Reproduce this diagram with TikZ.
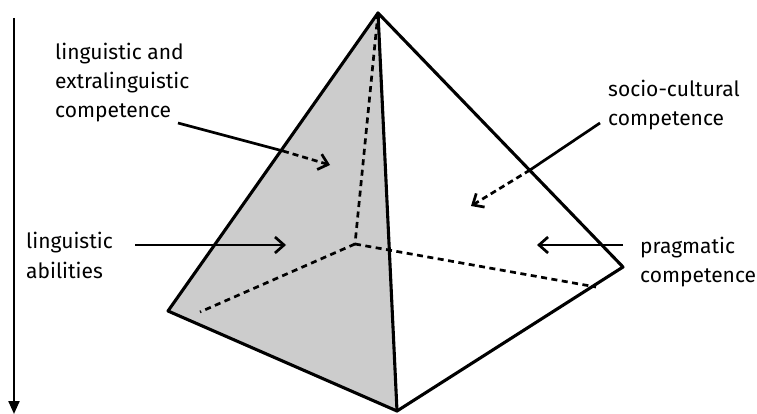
\documentclass[tikz,border=0pt]{standalone}
\usepackage{fontspec}
\setmainfont{Fira Sans}
\usetikzlibrary{arrows.meta}
\begin{document}
\begin{tikzpicture}[x=1pt,y=-1pt,
  edge/.style={line width=3.1pt,line join=round,line cap=round},
  hidden/.style={line width=2.7pt,dash pattern=on 6pt off 4.5pt},
  callout/.style={line width=2.7pt},
  barb/.style={-{Straight Barb[length=9pt,width=16pt,line width=2.7pt]}},
  lbl/.style={font=\fontsize{21}{29.5}\selectfont,inner sep=0pt,anchor=base west}]
\useasboundingbox (0,0) rectangle (757,414);
% vertices
\coordinate (apex) at (378,13);
\coordinate (L) at (168,311);
\coordinate (B) at (397,411);
\coordinate (R) at (623,267);
\coordinate (K) at (355,244);
\coordinate (KL) at (200,312);
\coordinate (KR) at (596,287);
% face
\fill[black!20] (apex) -- (L) -- (B) -- cycle;
% hidden edges
\draw[hidden] (apex) -- (K);
\draw[hidden] (K) -- (KL);
\draw[hidden] (K) -- (KR);
% visible edges
\draw[edge] (apex) -- (L) -- (B) -- (R) -- cycle;
\draw[edge] (apex) -- (B);
% left axis arrow
\coordinate (ax1) at (14,18);
\coordinate (ax2) at (14,414);
\draw[line width=2.2pt,-{Triangle[length=13pt,width=11pt]}] (ax1) -- (ax2);
% labels
\node[lbl] (t1a) at (55,60) {linguistic and};
\node[lbl] (t1b) at (55,89) {extralinguistic};
\node[lbl] (t1c) at (55,118) {competence};
\node[lbl] (t2a) at (608,97) {socio-cultural};
\node[lbl] (t2b) at (608,126) {competence};
\node[lbl] (t3a) at (26,248) {linguistic};
\node[lbl] (t3b) at (26,278) {abilities};
\node[lbl] (t4a) at (640,253) {pragmatic};
\node[lbl] (t4b) at (640,282) {competence};
% callout arrows
\coordinate (a1s) at (178,123);
\coordinate (a1m) at (283,151);
\coordinate (a1e) at (330,165);
\draw[callout] (a1s) -- (a1m);
\draw[callout,dash pattern=on 6pt off 4pt,barb] (a1m) -- (a1e);
\coordinate (a2s) at (600,123);
\coordinate (a2m) at (530,170);
\coordinate (a2e) at (471,206);
\draw[callout] (a2s) -- (a2m);
\draw[callout,dash pattern=on 6pt off 4pt,barb] (a2m) -- (a2e);
\coordinate (a3s) at (135,245);
\coordinate (a3e) at (286,245);
\draw[callout,barb] (a3s) -- (a3e);
\coordinate (a4s) at (623,245);
\coordinate (a4e) at (537,245);
\draw[callout,barb] (a4s) -- (a4e);
\end{tikzpicture}
\end{document}
